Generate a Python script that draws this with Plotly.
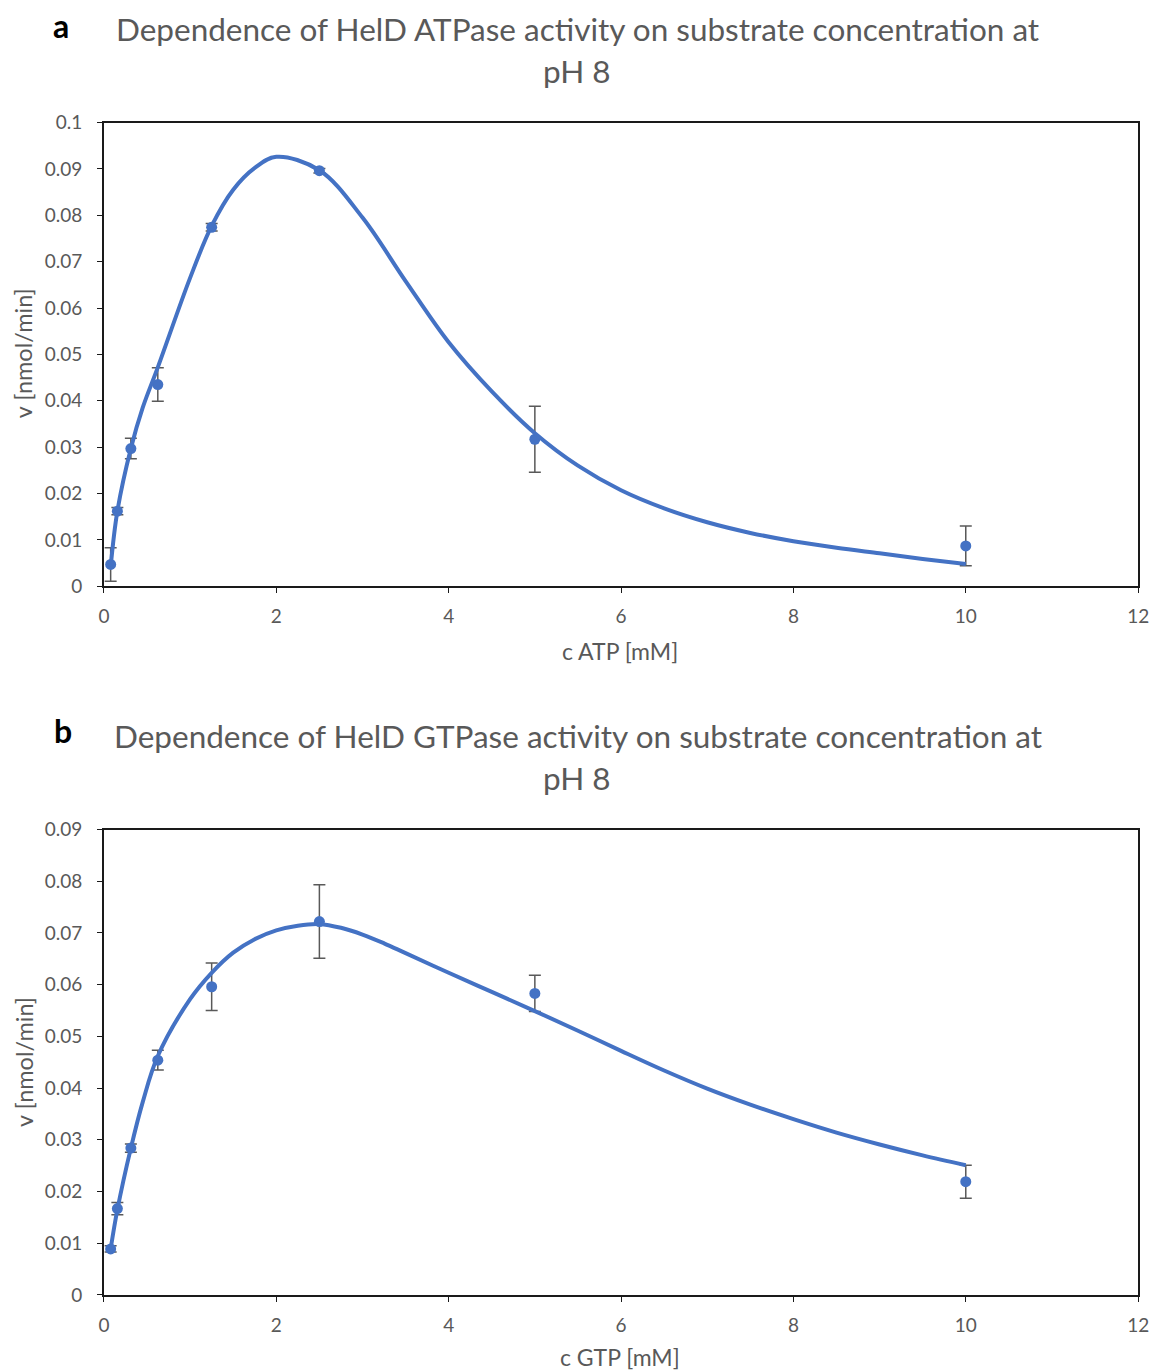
import plotly.graph_objects as go

# Substrate concentrations (mM), two-fold dilution series
conc = [0.078, 0.156, 0.3125, 0.625, 1.25, 2.5, 5, 10]

# ATPase activity, mean and error (nmol/min)
atp_v = [0.0047, 0.0162, 0.0297, 0.0435, 0.0774, 0.0896, 0.0317, 0.0087]
atp_err = [0.0036, 0.0008, 0.0022, 0.0036, 0.0008, 0.0005, 0.0071, 0.0043]

# GTPase activity, mean and error (nmol/min)
gtp_v = [0.0089, 0.0167, 0.0284, 0.0454, 0.0596, 0.0722, 0.0583, 0.0219]
gtp_err = [0.0006, 0.0012, 0.0008, 0.0019, 0.0046, 0.0071, 0.0035, 0.0032]

# Fitted substrate-inhibition curves
atp_fit_x = [0.078, 0.156, 0.3125, 0.45, 0.625, 1.0, 1.25, 1.5, 1.75, 2.0,
             2.5, 3.0, 3.5, 4.0, 4.5, 5.0, 5.5, 6.0, 6.5, 7.0, 7.5, 8.0,
             8.5, 9.0, 9.5, 10.0]
atp_fit_v = [0.0042, 0.0162, 0.0297, 0.0385, 0.0472, 0.0665, 0.0777, 0.0855,
             0.0902, 0.0926, 0.0897, 0.0795, 0.0658, 0.0526, 0.0420, 0.0330,
             0.0260, 0.0207, 0.0168, 0.0138, 0.0115, 0.0097, 0.0083, 0.0071,
             0.0059, 0.0048]

gtp_fit_x = [0.078, 0.156, 0.3125, 0.45, 0.625, 1.0, 1.25, 1.5, 1.75, 2.0,
             2.25, 2.5, 2.75, 3.0, 3.25, 3.5, 4.0, 4.5, 5.0, 5.5, 6.0, 6.5,
             7.0, 7.5, 8.0, 8.5, 9.0, 9.5, 10.0]
gtp_fit_v = [0.0089, 0.0165, 0.0284, 0.0373, 0.0462, 0.0572, 0.0623, 0.0662,
             0.0688, 0.0705, 0.0714, 0.0717, 0.0710, 0.0697, 0.0680, 0.0661,
             0.0623, 0.0586, 0.0549, 0.0511, 0.0472, 0.0434, 0.0399, 0.0368,
             0.0340, 0.0314, 0.0291, 0.0270, 0.0251]

x_ticks = [0, 2, 4, 6, 8, 10, 12]

W, H = 1156, 1371
BLUE = "#4472C4"
GREY = "#595959"
FONT = "Lato"

# layout positions are given in page pixels; the page is shown slightly
# reduced, so those positions are pre-scaled to land where intended
SX, CX = 0.993, 3.0
SY, CY = 0.985, 11.0


def px(x):
    return ((x - CX) / SX) / W


def py(y):
    return 1 - ((y - CY) / SY) / H


fig = go.Figure()

panels = [
    ("x", "y", atp_v, atp_err, atp_fit_x, atp_fit_v),
    ("x2", "y2", gtp_v, gtp_err, gtp_fit_x, gtp_fit_v),
]
for xa, ya, v, err, fx, fv in panels:
    fig.add_trace(go.Scatter(
        x=conc, y=v, mode="markers", xaxis=xa, yaxis=ya,
        marker=dict(color=BLUE, size=11),
        error_y=dict(type="data", array=err, color=GREY, thickness=1.5, width=6),
        showlegend=False, hoverinfo="skip"))
    fig.add_trace(go.Scatter(
        x=fx, y=fv, mode="lines", xaxis=xa, yaxis=ya,
        line=dict(color=BLUE, width=4, shape="spline", smoothing=1.0),
        showlegend=False, hoverinfo="skip"))

x_dom = [px(101.7), px(1144)]
axis_common = dict(
    showline=True, mirror=True, linecolor="#1a1a1a", linewidth=1.5,
    ticks="outside", ticklen=5, tickwidth=1.2, tickcolor="#1a1a1a",
    showgrid=False, zeroline=False,
    tickfont=dict(family=FONT, size=19, color=GREY),
)

fig.update_layout(
    width=W, height=H,
    margin=dict(l=0, r=0, t=0, b=0),
    paper_bgcolor="white", plot_bgcolor="white",
    xaxis=dict(domain=x_dom, anchor="y", range=[0, 12], tickvals=x_ticks,
               ticklabelstandoff=7, ticklabeloverflow="allow", **axis_common),
    yaxis=dict(domain=[py(586.3), py(121.7)], anchor="x", range=[0, 0.1],
               dtick=0.01, tick0=0, ticklabelstandoff=11, **axis_common),
    xaxis2=dict(domain=x_dom, anchor="y2", range=[0, 12], tickvals=x_ticks,
                ticklabelstandoff=7, ticklabeloverflow="allow", **axis_common),
    yaxis2=dict(domain=[py(1296.3), py(830)], anchor="x2", range=[0, 0.09],
                dtick=0.01, tick0=0, ticklabelstandoff=11, **axis_common),
)

texts = [
    # panel letters
    dict(x=px(58), y=py(25), text="<b>a</b>", size=32, color="black"),
    dict(x=px(60), y=py(731), text="<b>b</b>", size=32, color="black"),
    # titles
    dict(x=px(579), y=py(28),
         text="Dependence of HelD ATPase activity on substrate concentration at",
         size=31.5, color=GREY),
    dict(x=px(578), y=py(70), text="pH 8", size=31.5, color=GREY),
    dict(x=px(579), y=py(736),
         text="Dependence of HelD GTPase activity on substrate concentration at",
         size=31.5, color=GREY),
    dict(x=px(578), y=py(778), text="pH 8", size=31.5, color=GREY),
    # axis titles
    dict(x=px(622), y=py(651), text="c ATP [mM]", size=23, color=GREY),
    dict(x=px(622), y=py(1358), text="c GTP [mM]", size=23, color=GREY),
]
for t in texts:
    fig.add_annotation(x=t["x"], y=t["y"], xref="paper", yref="paper",
                       text=t["text"], showarrow=False,
                       xanchor="center", yanchor="middle",
                       font=dict(family=FONT, size=t["size"], color=t["color"]))

for yc in (353, 1063):
    fig.add_annotation(x=px(21), y=py(yc), xref="paper", yref="paper",
                       text="v [nmol/min]", showarrow=False, textangle=-90,
                       xanchor="center", yanchor="middle",
                       font=dict(family=FONT, size=23.5, color=GREY))

fig.write_html("out.html")
